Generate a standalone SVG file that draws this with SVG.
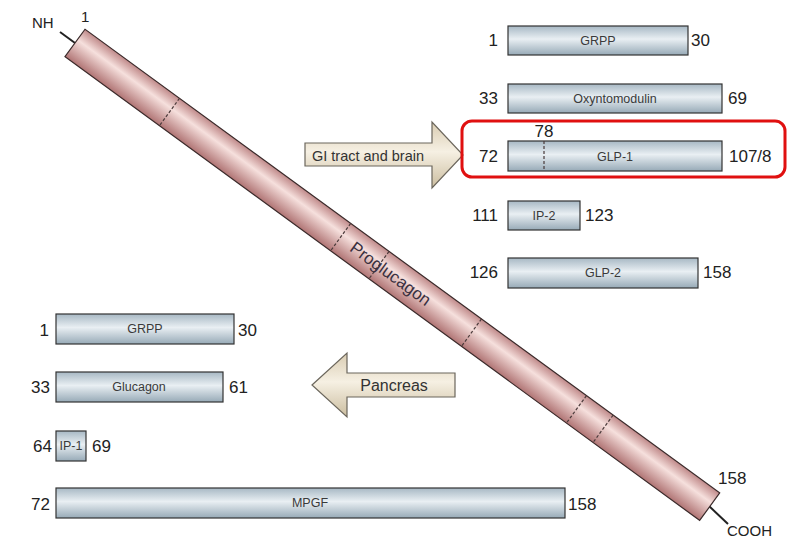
<svg xmlns="http://www.w3.org/2000/svg" width="792" height="538" viewBox="0 0 792 538">
<style>
.num{font-family:"Liberation Sans",Arial,sans-serif;font-size:17px;fill:#222}
.lbl{font-family:"Liberation Sans",Arial,sans-serif;font-size:12.5px;fill:#3a3a3a;text-anchor:middle}
.box{fill:url(#boxg);stroke:#333;stroke-width:1.2}
.arr{fill:url(#arrg);stroke:#6b665c;stroke-width:1.2}
.dash{stroke:#4a3a3a;stroke-width:1.2;stroke-dasharray:3 2;fill:none}
.end{font-family:"Liberation Sans",Arial,sans-serif;font-size:15px;fill:#222}
</style>
<defs>
<linearGradient id="boxg" x1="0" y1="0" x2="0" y2="1">
<stop offset="0" stop-color="#a7b8c4"/>
<stop offset="0.45" stop-color="#e9eff3"/>
<stop offset="1" stop-color="#97aab7"/>
</linearGradient>
<linearGradient id="tubeg" x1="0" y1="0" x2="0" y2="1">
<stop offset="0" stop-color="#c08a8a"/>
<stop offset="0.38" stop-color="#f6e0dd"/>
<stop offset="1" stop-color="#b07474"/>
</linearGradient>
<linearGradient id="arrg" x1="0" y1="0" x2="0" y2="1">
<stop offset="0" stop-color="#d9ccb2"/>
<stop offset="0.45" stop-color="#f6f0e3"/>
<stop offset="1" stop-color="#cbbd9f"/>
</linearGradient>
</defs>

<g id="proglucagon">
<line x1="75" y1="43" x2="60" y2="32" stroke="#222" stroke-width="2"/>
<line x1="709.5" y1="506.5" x2="728" y2="524" stroke="#222" stroke-width="2"/>
<g transform="translate(75,43) rotate(36.15)">
<rect x="0" y="-17" width="786" height="34" fill="url(#tubeg)" stroke="#3a2a2a" stroke-width="1.2"/>
<line class="dash" x1="117" y1="-17" x2="117" y2="17"/>
<line class="dash" x1="329" y1="-17" x2="329" y2="17"/>
<line class="dash" x1="376.5" y1="-17" x2="376.5" y2="17"/>
<line class="dash" x1="491" y1="-17" x2="491" y2="17"/>
<line class="dash" x1="621" y1="-17" x2="621" y2="17"/>
<line class="dash" x1="654" y1="-17" x2="654" y2="17"/>
<text x="391" y="6" text-anchor="middle" font-family="Liberation Sans, Arial, sans-serif" font-size="17" fill="#3a3040">Proglucagon</text>
</g>
<text class="end" x="32" y="28">NH</text>
<text class="end" x="81" y="22">1</text>
<text class="num" x="718" y="484">158</text>
<text class="end" x="727" y="536">COOH</text>
</g>

<g id="arrow-gi">
<polygon class="arr" points="305,143 432,143 432,122 463,155 432,188 432,166 305,166"/>
<text x="368" y="161" text-anchor="middle" font-family="Liberation Sans, Arial, sans-serif" font-size="14.5" fill="#333">GI tract and brain</text>
</g>

<g id="arrow-pancreas">
<polygon class="arr" points="312,385 347,353 347,373 455,373 455,397 347,397 347,417"/>
<text x="394" y="391" text-anchor="middle" font-family="Liberation Sans, Arial, sans-serif" font-size="16" fill="#333">Pancreas</text>
</g>

<g id="r-grpp">
<rect class="box" x="508" y="26" width="180" height="29"/>
<text class="lbl" x="598" y="45">GRPP</text>
<text class="num" x="498" y="46" text-anchor="end">1</text>
<text class="num" x="691" y="46">30</text>
</g>
<g id="r-oxyntomodulin">
<rect class="box" x="508" y="84" width="214" height="29"/>
<text class="lbl" x="615" y="103">Oxyntomodulin</text>
<text class="num" x="498" y="104" text-anchor="end">33</text>
<text class="num" x="728" y="104">69</text>
</g>
<g id="r-glp1">
<rect x="462" y="121" width="323" height="56" rx="10" fill="none" stroke="#e01010" stroke-width="3"/>
<rect class="box" x="508" y="141" width="214" height="30"/>
<line class="dash" x1="544" y1="141" x2="544" y2="171" stroke="#222"/>
<text class="lbl" x="615" y="161">GLP-1</text>
<text class="num" x="544" y="137" text-anchor="middle">78</text>
<text class="num" x="498" y="162" text-anchor="end">72</text>
<text class="num" x="729" y="162">107/8</text>
</g>
<g id="r-ip2">
<rect class="box" x="508" y="201" width="72" height="29"/>
<text class="lbl" x="544" y="220">IP-2</text>
<text class="num" x="498" y="221" text-anchor="end">111</text>
<text class="num" x="585" y="221">123</text>
</g>
<g id="r-glp2">
<rect class="box" x="508" y="258" width="190" height="30"/>
<text class="lbl" x="603" y="277">GLP-2</text>
<text class="num" x="498" y="278" text-anchor="end">126</text>
<text class="num" x="703" y="278">158</text>
</g>

<g id="l-grpp">
<rect class="box" x="56" y="314" width="178" height="30"/>
<text class="lbl" x="145" y="333">GRPP</text>
<text class="num" x="49" y="336" text-anchor="end">1</text>
<text class="num" x="238" y="336">30</text>
</g>
<g id="l-glucagon">
<rect class="box" x="56" y="372" width="167" height="30"/>
<text class="lbl" x="139" y="391">Glucagon</text>
<text class="num" x="50" y="393" text-anchor="end">33</text>
<text class="num" x="229" y="393">61</text>
</g>
<g id="l-ip1">
<rect class="box" x="56" y="431" width="30" height="30"/>
<text class="lbl" x="71" y="450" font-size="11">IP-1</text>
<text class="num" x="52" y="452" text-anchor="end">64</text>
<text class="num" x="92" y="452">69</text>
</g>
<g id="l-mpgf">
<rect class="box" x="56" y="488" width="509" height="30"/>
<text class="lbl" x="310" y="507">MPGF</text>
<text class="num" x="50" y="510" text-anchor="end">72</text>
<text class="num" x="568" y="510">158</text>
</g>
<g id="connectors"/>
</svg>
